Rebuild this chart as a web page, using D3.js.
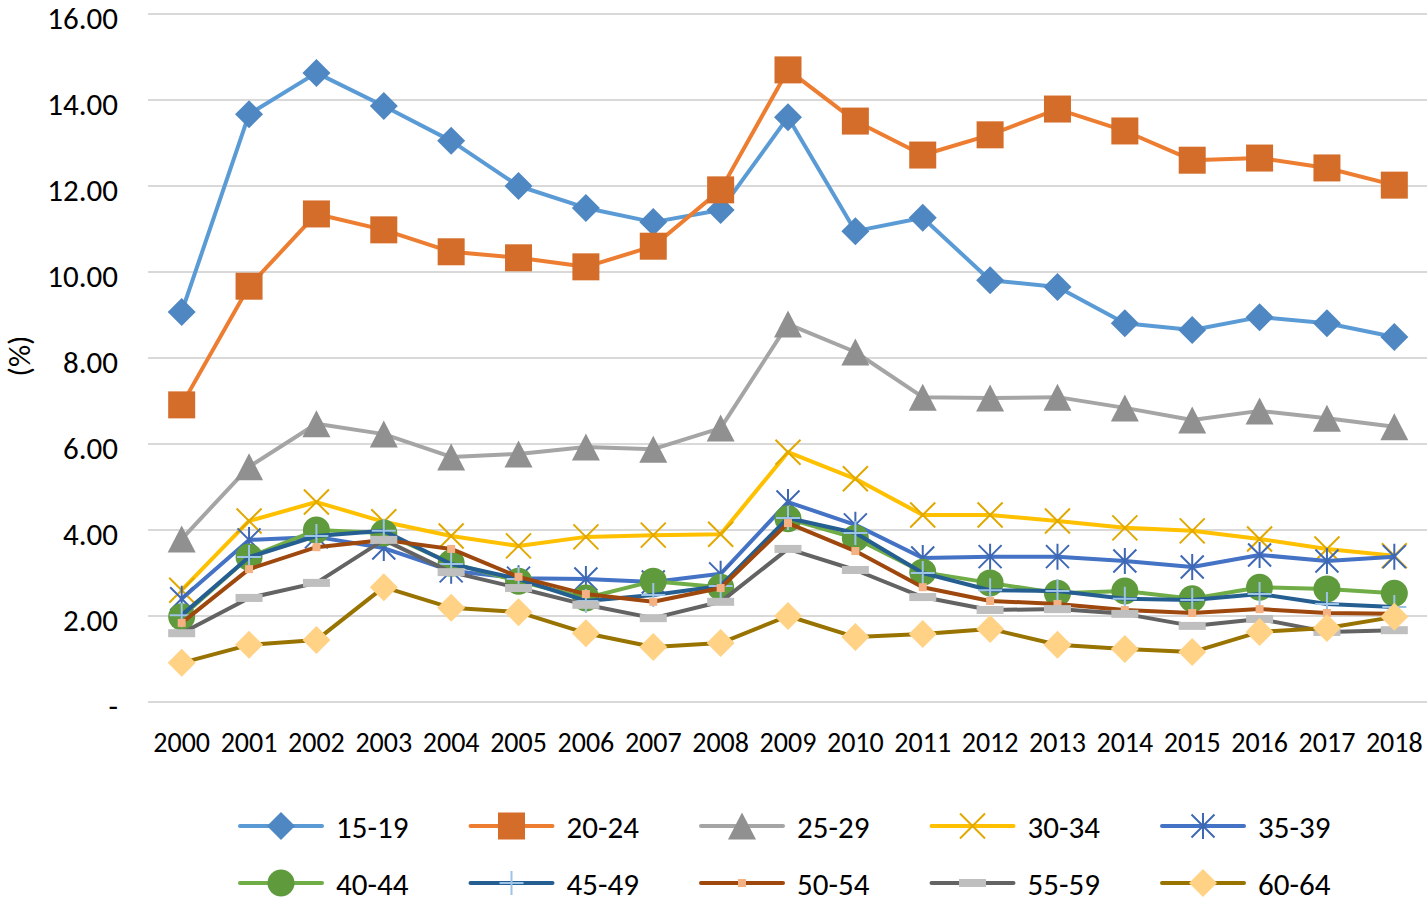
<!DOCTYPE html>
<html>
<head>
<meta charset="utf-8">
<script src="https://cdn.jsdelivr.net/npm/d3@7"></script>
<style>
  html, body { margin: 0; padding: 0; background: #ffffff; }
  svg { display: block; }
  text { font-family: Carlito, Calibri, Lato, "Open Sans", sans-serif; fill: #000; }
</style>
</head>
<body>
<svg id="chart" width="1427" height="903"></svg>
<script>
// ---- Data ----
const years = ["2000","2001","2002","2003","2004","2005","2006","2007","2008","2009",
               "2010","2011","2012","2013","2014","2015","2016","2017","2018"];
const yTicks = [0, 2, 4, 6, 8, 10, 12, 14, 16];
const seriesNames = ["15-19","20-24","25-29","30-34","35-39","40-44","45-49","50-54","55-59","60-64"];

const s15_19 = [9.07,13.67,14.63,13.86,13.05,12.00,11.49,11.16,11.44,13.60,10.95,11.26,9.81,9.65,8.81,8.65,8.95,8.81,8.49];
const s20_24 = [6.91,9.67,11.35,10.98,10.47,10.33,10.12,10.60,11.91,14.70,13.51,12.72,13.19,13.79,13.28,12.60,12.65,12.42,12.02];
const s25_29 = [3.79,5.47,6.47,6.23,5.70,5.77,5.93,5.88,6.37,8.79,8.14,7.09,7.07,7.09,6.84,6.56,6.77,6.60,6.40];
const s30_34 = [2.60,4.21,4.65,4.19,3.86,3.63,3.84,3.88,3.90,5.81,5.19,4.35,4.35,4.21,4.05,3.98,3.79,3.56,3.40];
const s35_39 = [2.40,3.77,3.84,3.58,3.05,2.88,2.86,2.79,2.98,4.65,4.12,3.35,3.38,3.38,3.28,3.14,3.42,3.28,3.38];
const s40_44 = [1.98,3.37,4.00,3.93,3.23,2.81,2.42,2.81,2.67,4.26,3.81,3.02,2.77,2.53,2.58,2.40,2.67,2.63,2.53];
const s45_49 = [2.02,3.37,3.86,3.98,3.21,2.86,2.35,2.49,2.70,4.28,3.93,3.00,2.60,2.58,2.40,2.37,2.51,2.28,2.21];
const s50_54 = [1.84,3.09,3.60,3.77,3.56,2.91,2.51,2.33,2.65,4.16,3.51,2.67,2.35,2.28,2.14,2.07,2.16,2.07,2.05];
const s55_59 = [1.60,2.42,2.77,3.77,3.02,2.65,2.26,1.95,2.33,3.56,3.07,2.44,2.14,2.16,2.05,1.77,1.93,1.63,1.67];
const s60_64 = [0.91,1.33,1.44,2.67,2.19,2.09,1.60,1.28,1.37,2.00,1.51,1.58,1.70,1.33,1.23,1.16,1.63,1.72,1.98];

const seriesValues = [s15_19,s20_24,s25_29,s30_34,s35_39,s40_44,s45_49,s50_54,s55_59,s60_64];

// ---- Styles ----
const styles = [
  {line:"#5B9BD5", marker:"diamond",  fill:"#4F87C2"},
  {line:"#ED7D31", marker:"square",   fill:"#D46D2A"},
  {line:"#A5A5A5", marker:"triangle", fill:"#909090"},
  {line:"#FFC000", marker:"x",        fill:"#E0A800"},
  {line:"#4472C4", marker:"star",     fill:"#3F68B4"},
  {line:"#70AD47", marker:"circle",   fill:"#5F9A3D"},
  {line:"#255E91", marker:"plus",     fill:"#9DC3E6"},
  {line:"#9E480E", marker:"smallsq",  fill:"#F4B183"},
  {line:"#636363", marker:"rect",     fill:"#BFBFBF"},
  {line:"#997300", marker:"diamond2", fill:"#FFD285"}
];

const svg = d3.select("#chart");
const plotLeft = 148, plotRight = 1428, plotTop = 14, plotBottom = 702;

const x = d3.scalePoint().domain(years).range([plotLeft, plotRight]).padding(0.5);
const y = d3.scaleLinear().domain([0, 16]).range([plotBottom, plotTop]);

// gridlines
svg.append("g").selectAll("line").data(yTicks).join("line")
  .attr("x1", plotLeft).attr("x2", plotRight)
  .attr("y1", d => y(d)).attr("y2", d => y(d))
  .attr("stroke", "#D9D9D9").attr("stroke-width", 2);

// y tick labels
svg.append("g").selectAll("text").data(yTicks).join("text")
  .attr("x", 118).attr("y", d => y(d) + 4)
  .attr("text-anchor", "end").attr("dominant-baseline", "central")
  .style("font-size", "31px")
  .text(d => d === 0 ? "-" : d3.format(".2f")(d));

// x tick labels
svg.append("g").selectAll("text").data(years).join("text")
  .attr("x", d => x(d)).attr("y", 742)
  .attr("text-anchor", "middle").attr("dominant-baseline", "central")
  .style("font-size", "28px")
  .text(d => d);

// y axis title
svg.append("text")
  .attr("transform", "translate(19,356) rotate(-90)")
  .attr("text-anchor", "middle").attr("dominant-baseline", "central")
  .style("font-size", "31px")
  .text("(%)");

function drawMarker(g, type, fill, cx, cy) {
  const m = g.append("g").attr("transform", `translate(${cx},${cy})`);
  switch (type) {
    case "diamond":
    case "diamond2": {
      const h = 14;
      m.append("path").attr("d", `M0,${-h}L${h},0L0,${h}L${-h},0Z`).attr("fill", fill);
      break;
    }
    case "square":
      m.append("rect").attr("x", -13.5).attr("y", -13.5).attr("width", 27).attr("height", 27).attr("fill", fill);
      break;
    case "triangle":
      m.append("path").attr("d", "M0,-13.5L14,13.5L-14,13.5Z").attr("fill", fill);
      break;
    case "x": {
      const h = 12.5;
      m.append("path").attr("d", `M${-h},${-h}L${h},${h}M${-h},${h}L${h},${-h}`)
        .attr("stroke", fill).attr("stroke-width", 2).attr("fill", "none");
      break;
    }
    case "star": {
      const h = 11.5;
      m.append("path").attr("d", `M${-h},${-h}L${h},${h}M${-h},${h}L${h},${-h}M0,${-h-1.5}L0,${h+1.5}`)
        .attr("stroke", fill).attr("stroke-width", 2).attr("fill", "none");
      break;
    }
    case "circle":
      m.append("circle").attr("r", 13.5).attr("fill", fill);
      break;
    case "plus": {
      const h = 12;
      m.append("path").attr("d", `M${-h},0L${h},0M0,${-h}L0,${h}`)
        .attr("stroke", fill).attr("stroke-width", 2).attr("fill", "none");
      break;
    }
    case "smallsq":
      m.append("rect").attr("x", -4).attr("y", -4).attr("width", 8).attr("height", 8).attr("fill", fill);
      break;
    case "rect":
      m.append("rect").attr("x", -13.5).attr("y", -4).attr("width", 27).attr("height", 8).attr("fill", fill);
      break;
  }
}

const line = d3.line().x((d, i) => x(years[i])).y(d => y(d));

seriesValues.forEach((vals, si) => {
  const st = styles[si];
  const g = svg.append("g").attr("class", "series");
  g.append("path").attr("d", line(vals))
    .attr("fill", "none").attr("stroke", st.line).attr("stroke-width", 4)
    .attr("stroke-linejoin", "round").attr("stroke-linecap", "round");
  vals.forEach((v, i) => drawMarker(g, st.marker, st.fill, x(years[i]), y(v)));
});

// legend
const legend = svg.append("g");
seriesNames.forEach((name, i) => {
  const col = i % 5, row = Math.floor(i / 5);
  const x0 = 240 + col * 230.5;
  const y0 = row === 0 ? 826 : 883;
  const st = styles[i];
  const g = legend.append("g");
  g.append("line").attr("x1", x0).attr("x2", x0 + 82).attr("y1", y0).attr("y2", y0)
    .attr("stroke", st.line).attr("stroke-width", 4).attr("stroke-linecap", "round");
  drawMarker(g, st.marker, st.fill, x0 + 41, y0);
  g.append("text").attr("x", x0 + 96).attr("y", y0 + 1)
    .attr("dominant-baseline", "central").style("font-size", "31px").text(name);
});
</script>
</body>
</html>
